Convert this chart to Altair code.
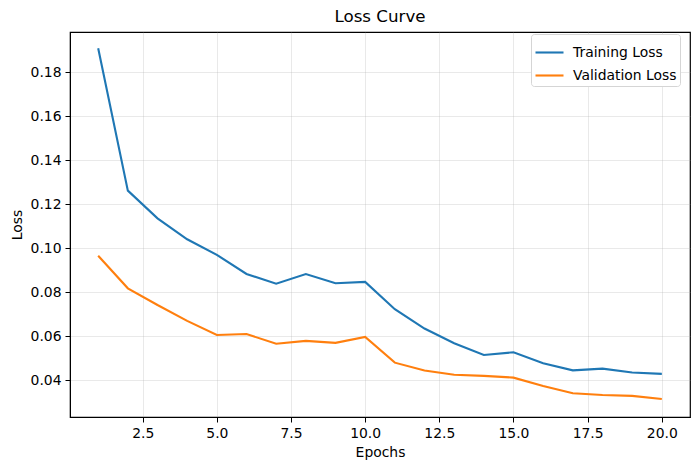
import altair as alt
import pandas as pd

# Loss per epoch
epochs = list(range(1, 21))
training_loss = [0.1909, 0.1262, 0.1136, 0.1041, 0.0970, 0.0883, 0.0839, 0.0883, 0.0841, 0.0847,
                 0.0723, 0.0635, 0.0568, 0.0515, 0.0527, 0.0477, 0.0445, 0.0453, 0.0435, 0.0429]
validation_loss = [0.0966, 0.0818, 0.0742, 0.0670, 0.0606, 0.0610, 0.0566, 0.0579, 0.0570, 0.0597,
                   0.0480, 0.0444, 0.0425, 0.0420, 0.0412, 0.0374, 0.0341, 0.0333, 0.0329, 0.0315]
series_names = ["Training Loss", "Validation Loss"]
series_colors = ["#1f77b4", "#ff7f0e"]
x_ticks = [2.5, 5.0, 7.5, 10.0, 12.5, 15.0, 17.5, 20.0]
y_ticks = [0.04, 0.06, 0.08, 0.10, 0.12, 0.14, 0.16, 0.18]

df = pd.DataFrame({
    "epoch": epochs * 2,
    "loss": training_loss + validation_loss,
    "series": [series_names[0]] * len(epochs) + [series_names[1]] * len(epochs),
})

FONT = "DejaVu Sans"

axis_common = dict(
    grid=True,
    gridColor="#b0b0b0",
    gridOpacity=0.35,
    gridWidth=0.8,
    domainColor="black",
    domainWidth=1,
    tickColor="black",
    tickSize=5,
    tickWidth=1,
    labelFont=FONT,
    labelFontSize=13.9,
    labelColor="black",
    labelPadding=4,
    labelFlush=False,
    titleFont=FONT,
    titleFontSize=13.9,
    titleFontWeight="normal",
    titleColor="black",
)

chart = alt.Chart(df).mark_line(strokeWidth=2.1).encode(
    x=alt.X("epoch:Q",
            scale=alt.Scale(domain=[0.05, 20.95], nice=False, zero=False),
            axis=alt.Axis(values=x_ticks, format=".1f", title="Epochs",
                          titlePadding=6, **axis_common)),
    y=alt.Y("loss:Q",
            scale=alt.Scale(domain=[0.0233, 0.1983], nice=False, zero=False),
            axis=alt.Axis(values=y_ticks, format=".2f", title="Loss",
                          titlePadding=6, **axis_common)),
    color=alt.Color("series:N",
                    scale=alt.Scale(domain=series_names, range=series_colors),
                    legend=alt.Legend(title=None, orient="none", legendX=461, legendY=2,
                                      symbolType="stroke", symbolSize=784,
                                      symbolStrokeWidth=2.1,
                                      labelFont=FONT, labelFontSize=13.9,
                                      labelColor="black", labelOffset=8,
                                      fillColor="white", strokeColor="#d5d5d5",
                                      cornerRadius=3, padding=3, rowPadding=0,
                                      labelLimit=120)),
).properties(
    width=620,
    height=385,
    background="white",
    title=alt.TitleParams("Loss Curve", font=FONT, fontSize=16.7, fontWeight="normal",
                          color="black", anchor="middle", offset=6),
    autosize=alt.AutoSizeParams(type="none"),
    padding={"left": 70, "top": 32, "right": 10, "bottom": 53},
).configure_view(
    stroke="black", strokeWidth=1.2
)

chart.save("out.html", embed_options={"renderer": "svg", "actions": False})
